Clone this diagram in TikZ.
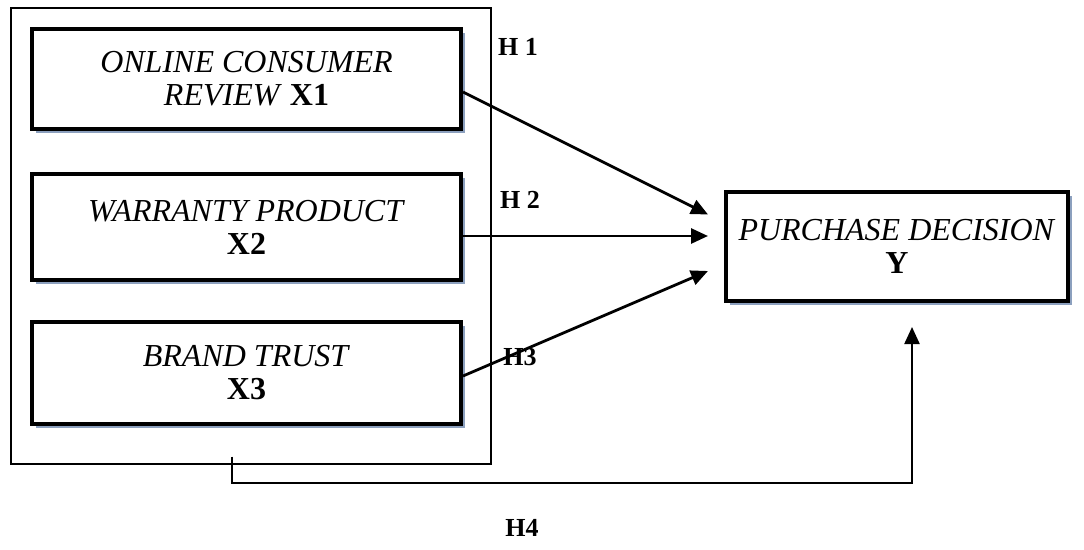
\documentclass[tikz,border=0pt]{standalone}
\usepackage{fontspec}
\setmainfont{Liberation Serif}
\usetikzlibrary{arrows.meta,shadows,calc}
\definecolor{shade}{RGB}{140,160,190}
\tikzset{
  varbox/.style={draw=black, line width=4pt, fill=white, align=center,
    inner sep=0pt, font=\fontsize{32}{33}\selectfont,
    drop shadow={shadow xshift=3.5pt, shadow yshift=-3.5pt, fill=shade, opacity=1}},
  framebox/.style={draw=black, line width=1.6pt, inner sep=0pt},
  hlabel/.style={font=\fontsize{26}{28}\selectfont\bfseries, inner sep=0pt},
  link/.style={line width=2.8pt, -{Triangle[length=17pt,width=15pt]}},
}
\begin{document}
\begin{tikzpicture}[x=1pt,y=-1pt]
\useasboundingbox (0,0) rectangle (1084,549);

% grouping frame around the independent variables
\node[framebox, minimum width=480pt, minimum height=456pt, anchor=north west] (frame) at (10,7) {};

% independent variables
\node[varbox, minimum width=429pt, minimum height=100pt] (x1) at (246.5,79)
  {\textit{ONLINE CONSUMER}\\\textit{REVIEW} \textbf{X1}};
\node[varbox, minimum width=429pt, minimum height=106pt] (x2) at (246.5,227)
  {\textit{WARRANTY PRODUCT}\\\textbf{X2}};
\node[varbox, minimum width=429pt, minimum height=102pt] (x3) at (246.5,373)
  {\textit{BRAND TRUST}\\\textbf{X3}};

% dependent variable
\node[varbox, minimum width=342pt, minimum height=109pt] (ybox) at (897,246.5)
  {\textit{PURCHASE DECISION}\\\textbf{Y}};

% arrow end points
\coordinate (s1) at ($(x1.east)+(0,13)$);
\coordinate (s2) at ($(x2.east)+(0,9)$);
\coordinate (s3) at ($(x3.east)+(0,3)$);
\coordinate (t1) at ($(ybox.west)+(-16,-32)$);
\coordinate (t2) at ($(ybox.west)+(-16,-10.5)$);
\coordinate (t3) at ($(ybox.west)+(-16,24.5)$);

\draw[link] (s1) -- (t1);
\draw[link] (s2) -- (t2);
\draw[link] (s3) -- (t3);

% simultaneous effect
\coordinate (h4a) at ($(frame.south west)+(222,-8)$);
\coordinate (h4b) at ($(ybox.south)+(15,24)$);
\draw[link, line width=2.2pt] (h4a) -- ++(0,26) -| (h4b);

% hypothesis labels
\node[hlabel] (h1) at (518,47) {H 1};
\node[hlabel] (h2) at (520,200) {H 2};
\node[hlabel] (h3) at (520,357) {H3};
\node[hlabel] (h4) at (522,528) {H4};
\end{tikzpicture}
\end{document}
